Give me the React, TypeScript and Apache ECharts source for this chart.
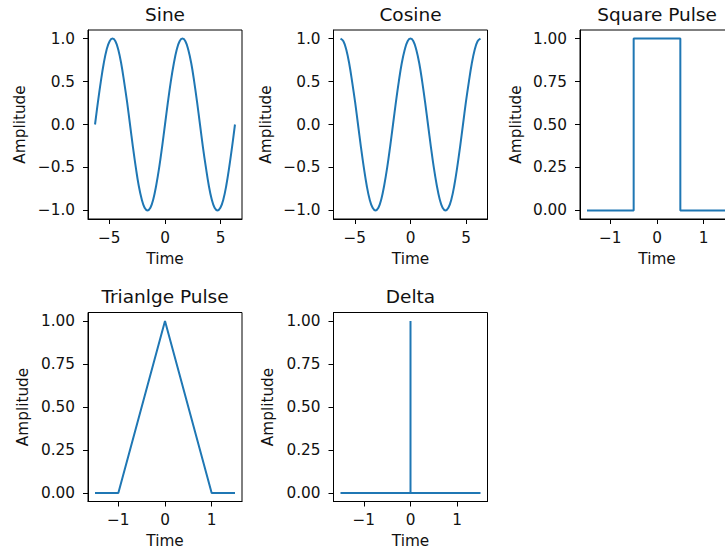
import React, { useEffect, useRef } from "react";
import * as echarts from "echarts";

// Sampled time axis (radians) shared by the sine and cosine panels
const waveTime = [
  -6.28, -6.02, -5.76, -5.5, -5.24, -4.97, -4.71, -4.45, -4.19, -3.93, -3.67, -3.4,
  -3.14, -2.88, -2.62, -2.36, -2.09, -1.83, -1.57, -1.31, -1.05, -0.79, -0.52, -0.26,
  0, 0.26, 0.52, 0.79, 1.05, 1.31, 1.57, 1.83, 2.09, 2.36, 2.62, 2.88,
  3.14, 3.4, 3.67, 3.93, 4.19, 4.45, 4.71, 4.97, 5.24, 5.5, 5.76, 6.02, 6.28,
];
const sineAmp = [
  0, 0.26, 0.5, 0.71, 0.87, 0.97, 1, 0.97, 0.87, 0.71, 0.5, 0.26,
  0, -0.26, -0.5, -0.71, -0.87, -0.97, -1, -0.97, -0.87, -0.71, -0.5, -0.26,
  0, 0.26, 0.5, 0.71, 0.87, 0.97, 1, 0.97, 0.87, 0.71, 0.5, 0.26,
  0, -0.26, -0.5, -0.71, -0.87, -0.97, -1, -0.97, -0.87, -0.71, -0.5, -0.26, 0,
];
const cosineAmp = [
  1, 0.97, 0.87, 0.71, 0.5, 0.26, 0, -0.26, -0.5, -0.71, -0.87, -0.97,
  -1, -0.97, -0.87, -0.71, -0.5, -0.26, 0, 0.26, 0.5, 0.71, 0.87, 0.97,
  1, 0.97, 0.87, 0.71, 0.5, 0.26, 0, -0.26, -0.5, -0.71, -0.87, -0.97,
  -1, -0.97, -0.87, -0.71, -0.5, -0.26, 0, 0.26, 0.5, 0.71, 0.87, 0.97, 1,
];

// Pulse shapes on the [-1.5, 1.5] time window
const squareTime = [-1.5, -0.5, -0.5, 0.5, 0.5, 1.5];
const squareAmp = [0, 0, 1, 1, 0, 0];
const triangleTime = [-1.5, -1, 0, 1, 1.5];
const triangleAmp = [0, 0, 1, 0, 0];
const deltaTime = [-1.5, 0, 0, 0, 1.5];
const deltaAmp = [0, 0, 1, 0, 0];

// Tick positions
const waveTicksX = [-5, 0, 5];
const waveTicksY = [-1, -0.5, 0, 0.5, 1];
const pulseTicksX = [-1, 0, 1];
const pulseTicksY = [0, 0.25, 0.5, 0.75, 1];

const titles = ["Sine", "Cosine", "Square Pulse", "Trianlge Pulse", "Delta"];

const LINE = "#1f77b4";
const INK = "#111";
const FONT = "DejaVu Sans";
const TICK_SIZE = 15.3;
const TITLE_SIZE = 18.5;

const zip = (xs: number[], ys: number[]) => xs.map((x, i) => [x, ys[i]]);
const fmt = (dec: number) => (v: number) =>
  (v < 0 ? "\u2212" : "") + Math.abs(v).toFixed(dec);

export default function App() {
  const ref = useRef<HTMLDivElement>(null);

  useEffect(() => {
    if (!ref.current) return;
    const chart = echarts.init(ref.current, null, { renderer: "svg" });

    const W = 154;
    const H = 189;
    const panels = [
      { left: 88, top: 30, x: [-6.91, 6.91], y: [-1.1, 1.1], tx: waveTicksX, ty: waveTicksY, dec: 1, gap: 61, data: zip(waveTime, sineAmp), smooth: 0.4 },
      { left: 333.5, top: 30, x: [-6.91, 6.91], y: [-1.1, 1.1], tx: waveTicksX, ty: waveTicksY, dec: 1, gap: 60, data: zip(waveTime, cosineAmp), smooth: 0.4 },
      { left: 580, top: 30, x: [-1.65, 1.65], y: [-0.05, 1.05], tx: pulseTicksX, ty: pulseTicksY, dec: 2, gap: 57, data: zip(squareTime, squareAmp), smooth: false },
      { left: 88, top: 312.5, x: [-1.65, 1.65], y: [-0.05, 1.05], tx: pulseTicksX, ty: pulseTicksY, dec: 2, gap: 58, data: zip(triangleTime, triangleAmp), smooth: false },
      { left: 333.5, top: 312.5, x: [-1.65, 1.65], y: [-0.05, 1.05], tx: pulseTicksX, ty: pulseTicksY, dec: 2, gap: 58, data: zip(deltaTime, deltaAmp), smooth: false },
    ];

    const axisCommon = {
      axisLine: { show: true, onZero: false, lineStyle: { color: "#000", width: 1 } },
      splitLine: { show: false },
    };

    chart.setOption({
      animation: false,
      backgroundColor: "#fff",
      title: panels.map((p, i) => ({
        text: titles[i],
        left: p.left + W / 2,
        top: p.top - 25.5,
        textAlign: "center",
        padding: 0,
        textStyle: { fontFamily: FONT, fontSize: TITLE_SIZE, fontWeight: "normal", color: INK },
      })),
      grid: panels.map((p) => ({
        left: p.left,
        top: p.top,
        width: W,
        height: H,
        show: true,
        borderColor: "#000",
        borderWidth: 1,
        backgroundColor: "transparent",
        containLabel: false,
      })),
      xAxis: panels.map((p, i) => ({
        type: "value",
        gridIndex: i,
        min: p.x[0],
        max: p.x[1],
        ...axisCommon,
        axisTick: { show: true, length: 5, customValues: p.tx, lineStyle: { color: "#000", width: 1 } },
        axisLabel: {
          customValues: p.tx,
          formatter: fmt(0),
          margin: 11,
          fontFamily: FONT,
          fontSize: TICK_SIZE,
          color: INK,
        },
        name: "Time",
        nameLocation: "middle",
        nameGap: 32,
        nameTextStyle: { fontFamily: FONT, fontSize: TICK_SIZE, color: INK },
      })),
      yAxis: panels.map((p, i) => ({
        type: "value",
        gridIndex: i,
        min: p.y[0],
        max: p.y[1],
        ...axisCommon,
        axisTick: { show: true, length: 5, customValues: p.ty, lineStyle: { color: "#000", width: 1 } },
        axisLabel: {
          customValues: p.ty,
          formatter: fmt(p.dec),
          margin: 13,
          fontFamily: FONT,
          fontSize: TICK_SIZE,
          color: INK,
        },
        name: "Amplitude",
        nameLocation: "middle",
        nameRotate: 90,
        nameGap: p.gap,
        nameTextStyle: { fontFamily: FONT, fontSize: TICK_SIZE, color: INK },
      })),
      series: panels.map((p, i) => ({
        type: "line",
        name: titles[i],
        xAxisIndex: i,
        yAxisIndex: i,
        data: p.data,
        smooth: p.smooth,
        showSymbol: false,
        clip: true,
        lineStyle: { color: LINE, width: 2 },
        itemStyle: { color: LINE },
      })),
    });

    return () => chart.dispose();
  }, []);

  // The chart canvas runs past the right edge; the outer box crops it.
  return (
    <div
      style={{
        position: "absolute",
        left: 0,
        top: 0,
        width: 725,
        height: 556,
        overflow: "hidden",
      }}
    >
      <div ref={ref} style={{ width: 760, height: 556 }} />
    </div>
  );
}
